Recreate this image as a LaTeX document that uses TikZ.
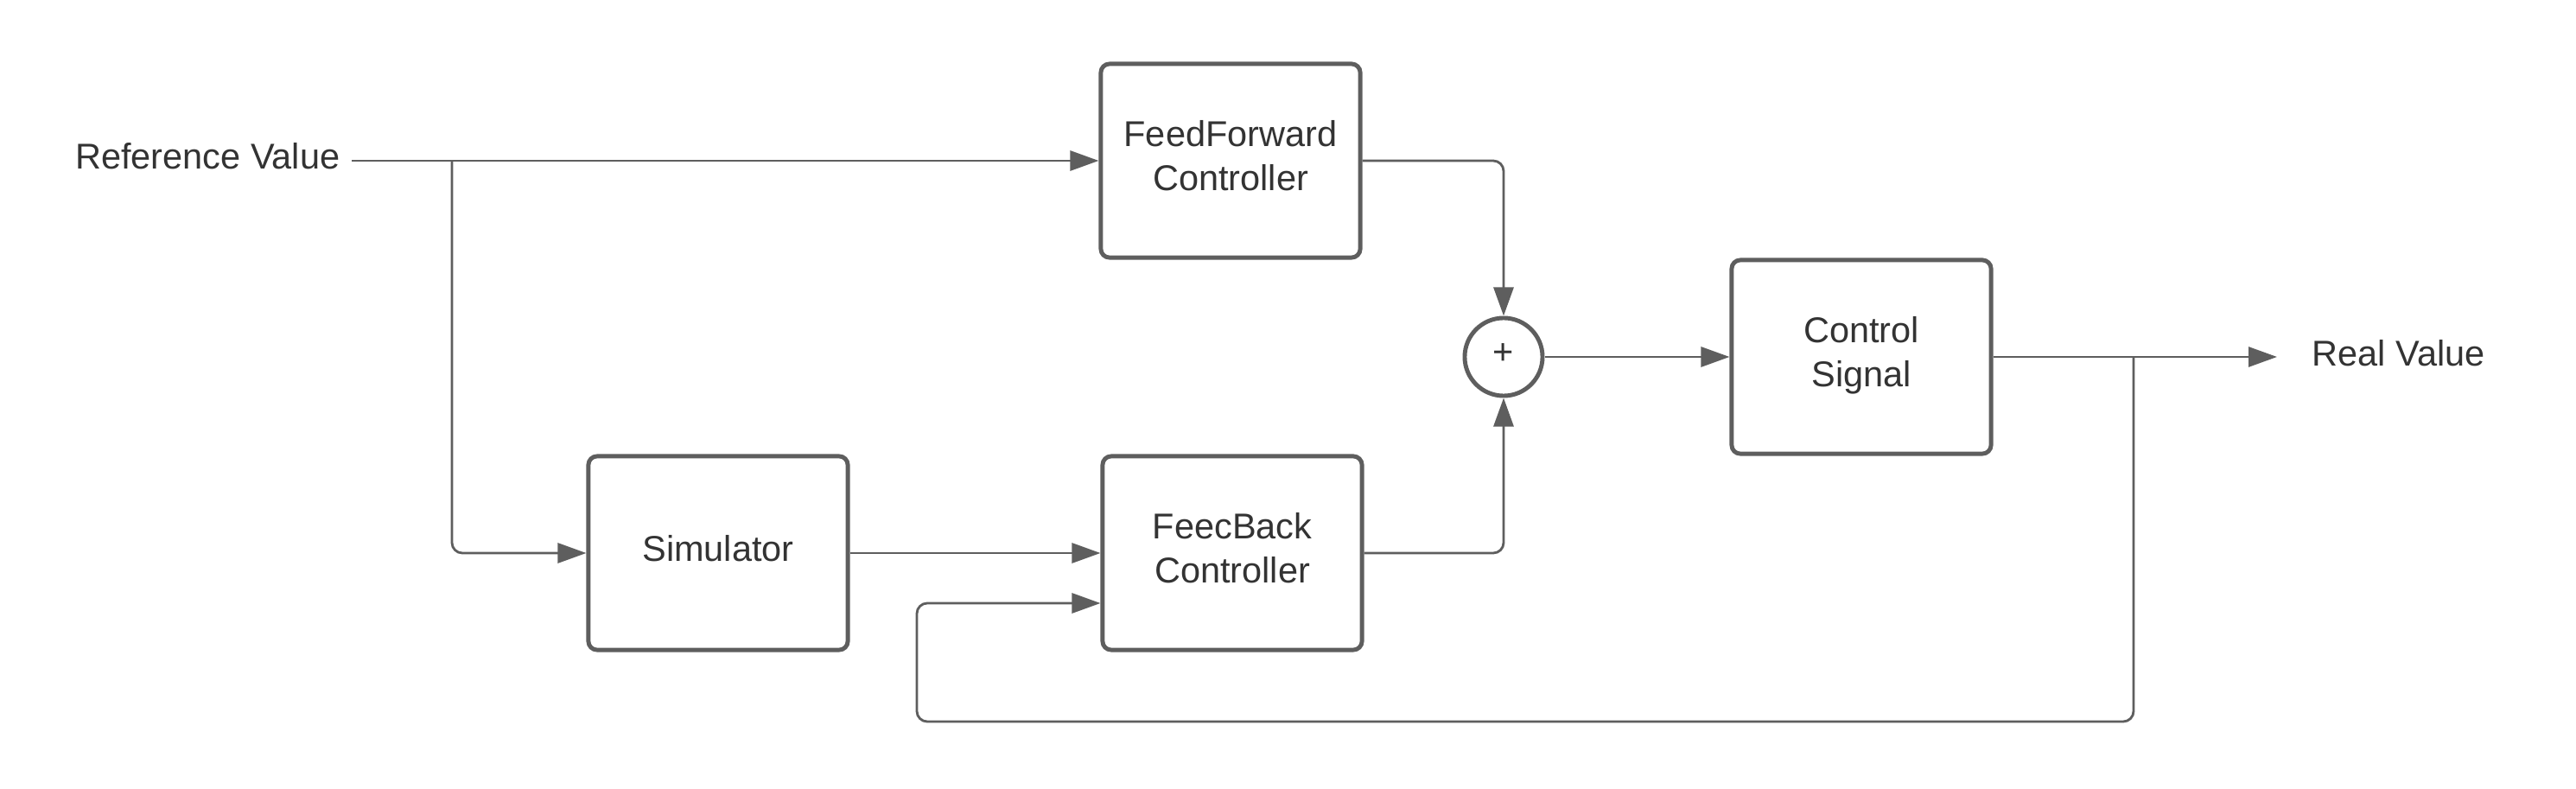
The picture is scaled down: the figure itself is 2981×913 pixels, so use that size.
\documentclass[tikz,border=0pt]{standalone}
\usepackage{fontspec}
\setmainfont{Liberation Sans}
\usetikzlibrary{arrows.meta,calc}

\definecolor{linegray}{HTML}{5E5E5E}
\definecolor{textgray}{HTML}{333333}

\begin{document}
\begin{tikzpicture}[x=0.01cm,y=-0.01cm,
	block/.style={draw=linegray,line width=1.4pt,rounded corners=0.1cm,fill=white,
		minimum width=3cm,minimum height=2.24cm,align=center,text=textgray,
		text depth=3.2pt,font=\fontsize{11.8}{14.5}\selectfont},
	label/.style={text=textgray,font=\fontsize{11.8}{14.5}\selectfont,inner sep=0pt},
	sumnode/.style={draw=linegray,line width=1.4pt,circle,minimum size=0.9cm,inner sep=0pt,
		text=textgray,font=\fontsize{11.8}{14}\selectfont},
	conn/.style={draw=linegray,line width=0.8pt,rounded corners=0.12cm,
		-{Triangle[length=3.3mm,width=2.3mm]}}]
\useasboundingbox (0,0) rectangle (2981,913);

% blocks
\node[block] (ff) at (1424,186) {FeedForward\\Controller};
\node[block] (sim) at (831,640) {Simulator};
\node[block] (fb) at (1426,640) {FeecBack\\Controller};
\node[block] (cs) at (2154,413) {Control\\Signal};
\node[sumnode] (sum) at (1740,413) {\raisebox{0.6mm}{+}};

% texts
\node[label,anchor=east] (ref) at (394,181) {Reference Value};
\node[label,anchor=west] (real) at (2675,409) {Real Value};

\coordinate (refout) at (407,186);
\coordinate (split) at (523,186);
\coordinate (out) at (2635,413);
\coordinate (tap) at (2469,413);
\coordinate (loop) at (1061,835);
\coordinate (fbin) at ($(fb.west)+(0,58)$);

% connectors
\draw[conn] (refout) -- (ff.west);
\draw[conn] (split) |- (sim.west);
\draw[conn] (sim.east) -- (fb.west);
\draw[conn] (ff.east) -| (sum.north);
\draw[conn] (fb.east) -| (sum.south);
\draw[conn] (sum.east) -- (cs.west);
\draw[conn] (cs.east) -- (out);
\draw[conn] (tap) |- (loop) |- (fbin);
\end{tikzpicture}
\end{document}
